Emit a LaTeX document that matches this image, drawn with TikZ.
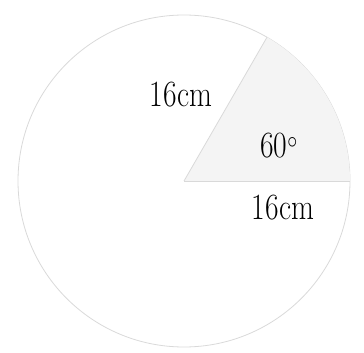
\documentclass[tikz,border=0pt]{standalone}
\usepackage{tikz}
\usepackage{xcolor}
\usetikzlibrary{positioning, calc}
\definecolor{RimA}{HTML}{D9D9D9}
\definecolor{SectB}{HTML}{F4F4F4}
\tikzset{
  rim/.style={draw=RimA, line width=0.8pt},
  lbl/.style={font=\fontsize{37}{37}\selectfont, text=black, inner sep=0pt,
              xscale=0.8, transform shape},
}

\begin{document}
\begin{tikzpicture}[x=1pt, y=-1pt]
  \useasboundingbox (0,0) rectangle (364,353);

  % ---- circle and the 60 degree sector ----
  \coordinate (O) at (184,181);
  \coordinate (A) at ($(O)+(166,0)$);
  \coordinate (B) at ($(O)+(83,-143.8)$);
  \draw[rim] (O) circle[radius=166];
  \fill[SectB] (O) -- (A) arc[start angle=0, end angle=-60, radius=166] -- cycle;
  \draw[rim] (O) -- (A);
  \draw[rim] (O) -- (B);

  % ---- labels ----
  \node[lbl] (rad1) at (181,95)  {16cm};
  \node[lbl] (ang)  at (279,146) {60$^\circ$};
  \node[lbl] (rad2) at (283,208) {16cm};
\end{tikzpicture}
\end{document}
